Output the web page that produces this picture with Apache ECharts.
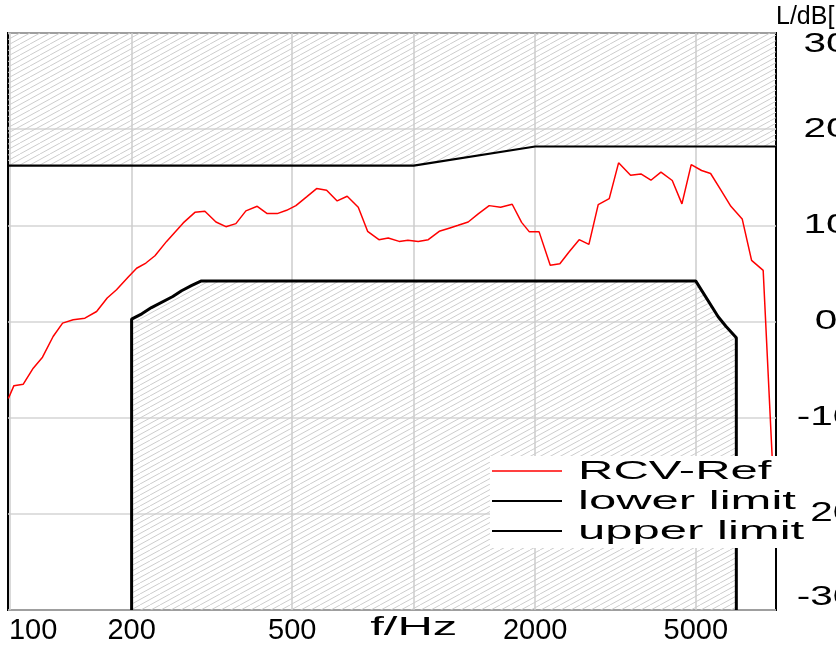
<!DOCTYPE html>
<html>
<head>
<meta charset="utf-8">
<script src="https://cdn.jsdelivr.net/npm/echarts@6/dist/echarts.min.js"></script>
<style>
  html, body { margin: 0; padding: 0; background: #fff; }
  #chart { width: 836px; height: 645px; }
</style>
</head>
<body>
<div id="chart"></div>
<script>
// Receive frequency response (RCV-Ref), 1/12-octave points
const refFreq = [99, 102.2, 107.8, 114.1, 120.3, 127.8, 134.9, 143.3, 153.2, 163.8, 174, 183.5, 196.2,
  205.8, 217, 228.5, 244.2, 268.5, 287, 303.8, 323.6, 342.5, 362.6, 383.9, 409.5, 433.5, 459, 484.2,
  510.6, 542.7, 574.6, 608.4, 646.2, 684.2, 728.8, 768.7, 819.9, 864.7, 920.4, 967.4, 1025.9, 1086.5,
  1156.7, 1229.6, 1289, 1364.6, 1444.8, 1538.2, 1641.8, 1753.8, 1850.5, 1934.6, 2045, 2179, 2302,
  2428, 2570, 2717, 2865, 3051, 3218, 3446, 3655, 3870, 4098, 4371, 4619, 4870, 5167, 5440, 5760,
  6107, 6514, 6873, 7343, 7850];
const refLevel = [-8.0, -6.67, -6.52, -4.85, -3.71, -1.56, -0.17, 0.18, 0.35, 1.04, 2.44, 3.3, 4.63,
  5.54, 6.08, 6.84, 8.33, 10.25, 11.35, 11.46, 10.35, 9.86, 10.18, 11.5, 11.98, 11.22, 11.22, 11.56,
  12.05, 12.96, 13.82, 13.65, 12.54, 13.02, 11.88, 9.38, 8.51, 8.69, 8.33, 8.46, 8.33, 8.51,
  9.38, 9.73, 10.0, 10.35, 11.19, 12.05, 11.88, 12.19, 10.31, 9.32, 9.32, 5.86, 6.01,
  7.26, 8.51, 8.02, 12.16, 12.78, 16.5, 15.21, 15.35, 14.69, 15.54, 14.66, 12.23, 16.32, 15.7, 15.39, 13.72,
  11.98, 10.67, 6.35, 5.31, -20];

// Tolerance mask: upper limit
const upperFreq = [98.8, 1000, 2000, 7900];
const upperLevel = [16.2, 16.2, 18.2, 18.2];

// Tolerance mask: lower limit (closed down to the bottom of the scale)
const lowerFreq = [200, 200, 212, 224, 253, 266, 282, 297, 5000, 5680, 5935, 6300, 6300];
const lowerLevel = [-30, 0.25, 0.8, 1.45, 2.6, 3.2, 3.75, 4.2, 4.2, 0.5, -0.5, -1.7, -30];

// Axis ticks
const freqTicks = [100, 200, 500, 1000, 2000, 5000];
const levelTicks = [-30, -20, -10, 0, 10, 20, 30];
const freqUnitAt = 1000;          // the 1000 Hz slot carries the unit label
const xUnitLabel = 'f/Hz';
const yUnitLabel = 'L/dB[Pa]';

const FONT = '"Liberation Sans", Arial, sans-serif';
const WIDE = 1.85;                // horizontal stretch of the lettering
const WIDE_NUM = 1.5;             // horizontal stretch of the level scale digits

function zip(xs, ys) { return xs.map((x, i) => [x, ys[i]]); }

// Diagonal hatch used for the forbidden regions
function hatch() {
  const w = 20, h = 11;
  const c = document.createElement('canvas');
  c.width = w; c.height = h;
  const g = c.getContext('2d');
  g.strokeStyle = '#cdcdcd';
  g.lineWidth = 1;
  g.beginPath();
  for (let k = -1; k <= 1; k++) {
    g.moveTo(k * 10, h);
    g.lineTo(k * 10 + w, 0);
  }
  g.stroke();
  return c;
}
const hatchFill = { image: hatch(), repeat: 'repeat' };

const seriesList = [
  {
    name: 'upper limit',
    type: 'line',
    data: zip(upperFreq, upperLevel),
    symbol: 'none',
    color: '#000',
    lineStyle: { color: '#000', width: 2.2 },
    areaStyle: { origin: 'end', color: hatchFill, opacity: 1 },
    z: 2
  },
  {
    name: 'lower limit',
    type: 'line',
    data: zip(lowerFreq, lowerLevel),
    symbol: 'none',
    color: '#000',
    lineStyle: { color: '#000', width: 3 },
    areaStyle: { origin: 'start', color: hatchFill, opacity: 1 },
    z: 2
  },
  {
    name: 'RCV-Ref',
    type: 'line',
    data: zip(refFreq, refLevel),
    symbol: 'none',
    color: '#ff0000',
    lineStyle: { color: '#ff0000', width: 1.5 },
    z: 3
  }
];
const legendOrder = ['RCV-Ref', 'lower limit', 'upper limit'];

const chart = echarts.init(document.getElementById('chart'), null, { renderer: 'canvas' });

chart.setOption({
  animation: false,
  textStyle: { fontFamily: FONT },
  grid: {
    left: 8, right: 60, top: 33, bottom: 35,
    containLabel: false,
    outerBoundsMode: 'none',
    show: true, borderColor: '#000', borderWidth: 2, backgroundColor: '#fff'
  },
  xAxis: {
    type: 'log',
    logBase: 10,
    min: 98.8,
    max: 7900,
    axisLine: { show: false },
    axisTick: { show: false, customValues: freqTicks },
    splitLine: { show: true, lineStyle: { color: '#cccccc', width: 1.5 } },
    axisLabel: {
      customValues: freqTicks,
      fontSize: 29, color: '#000', margin: 6, fontFamily: FONT,
      formatter: v => v === freqUnitAt ? '' : (v === freqTicks[0] ? '{first|' + v + '}' : String(v)),
      rich: { first: { fontSize: 29, fontFamily: FONT, color: '#000', padding: [0, 0, 0, 46] } }
    }
  },
  yAxis: {
    type: 'value',
    position: 'right',
    min: -30, max: 30, interval: 10,
    axisLine: { show: false },
    axisTick: { show: false },
    splitLine: { show: true, lineStyle: { color: '#d4d4d4', width: 1.5 } },
    axisLabel: { show: false }
  },
  series: seriesList
});

// Stretched lettering: level scale, unit labels and the legend box
const txt = (x, y, text, size, sx, align) => ({
  type: 'text', x, y, scaleX: sx, z: 120,
  style: { text, font: size + 'px ' + FONT, fill: '#000', align, verticalAlign: 'middle' }
});

const gridRect = chart.getModel().getComponent('grid').coordinateSystem.getRect();
const elements = [];

levelTicks.forEach(v => {
  let y = chart.convertToPixel({ yAxisIndex: 0 }, v);
  if (v === levelTicks[levelTicks.length - 1]) y += 12;
  if (v === levelTicks[0]) y -= 12;
  elements.push(Object.assign(txt(gridRect.x + gridRect.width + 50, y, String(v), 27, WIDE_NUM, 'center'), { z: 50 }));
});

elements.push(txt(chart.convertToPixel({ xAxisIndex: 0 }, freqUnitAt), 628, xUnitLabel, 26.5, WIDE, 'center'));
elements.push(txt(gridRect.x + gridRect.width, 17, yUnitLabel, 25, 1, 'left'));

const legendChildren = [{
  type: 'rect', shape: { x: 0, y: 0, width: 322, height: 92 },
  style: { fill: '#fff' }, z: 110
}];
legendOrder.forEach((name, i) => {
  const s = seriesList.find(d => d.name === name);
  const cy = 15 + i * 30;
  legendChildren.push({
    type: 'line', shape: { x1: 2, y1: cy, x2: 72, y2: cy }, z: 115,
    style: { stroke: s.lineStyle.color, lineWidth: s.name === 'RCV-Ref' ? 1.5 : 2 }
  });
  legendChildren.push(txt(88, cy + 1, name, 26.5, WIDE, 'left'));
});
elements.push({ type: 'group', x: 490, y: 456, z: 110, children: legendChildren });

chart.setOption({ graphic: { elements } });
</script>
</body>
</html>
